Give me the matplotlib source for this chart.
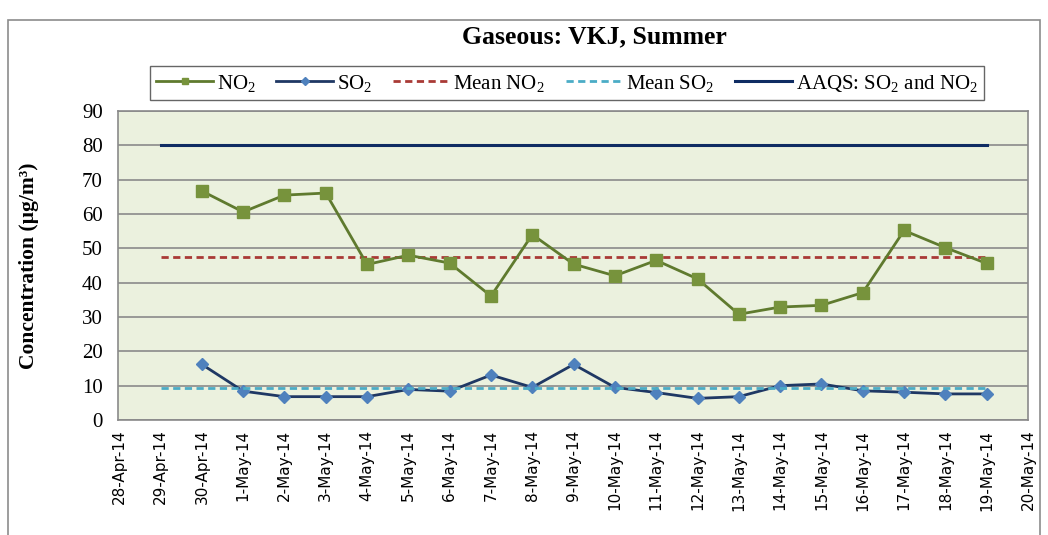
import numpy as np
import matplotlib
matplotlib.use("Agg")
import matplotlib.pyplot as plt
from matplotlib.patches import Rectangle

# Fechas del eje (eje de fechas continuo, 28-Abr a 20-May)
dates = ['28-Apr-14', '29-Apr-14', '30-Apr-14', '1-May-14', '2-May-14', '3-May-14',
         '4-May-14', '5-May-14', '6-May-14', '7-May-14', '8-May-14', '9-May-14',
         '10-May-14', '11-May-14', '12-May-14', '13-May-14', '14-May-14', '15-May-14',
         '16-May-14', '17-May-14', '18-May-14', '19-May-14', '20-May-14']

# Días con muestreo
sample_dates = dates[2:22]
no2 = [66.7, 60.6, 65.5, 66.1, 45.3, 48.0, 45.7, 36.1, 54.0, 45.4,
       42.0, 46.5, 41.1, 30.8, 32.9, 33.4, 37.1, 55.2, 50.2, 45.6]
so2 = [16.2, 8.4, 6.8, 6.8, 6.8, 8.9, 8.4, 13.1, 9.5, 16.2,
       9.5, 8.0, 6.3, 6.8, 10.0, 10.5, 8.5, 8.1, 7.6, 7.6]

# Líneas de referencia (medias y norma AAQS)
ref_dates = dates[1:22]
mean_no2 = 47.5
mean_so2 = 9.4
aaqs = 80

serif = 'Liberation Serif'
plt.rcParams['mathtext.default'] = 'regular'

fig = plt.figure(figsize=(10.48, 5.35), dpi=100)
fig.patch.set_facecolor('white')

# marco exterior del gráfico
fig.patches.append(Rectangle((8 / 1048, -0.05), 1032 / 1048, 1.05 - 20 / 535,
                             transform=fig.transFigure, fill=False,
                             edgecolor='#8c8c8c', linewidth=1.2))

ax = fig.add_axes([118 / 1048, 1 - 420 / 535, 910 / 1048, 309 / 535])
ax.set_facecolor('#EBF1DE')

x_all = np.arange(len(dates))
x_s = [dates.index(d) for d in sample_dates]
x_r = [dates.index(d) for d in ref_dates]

ax.plot(x_s, no2, color='#5F7A2E', linewidth=2.0, marker='s', markersize=8,
        markerfacecolor='#77933C', markeredgecolor='#77933C', label='NO$_2$', zorder=4)
ax.plot(x_s, so2, color='#1F3864', linewidth=2.0, marker='D', markersize=6.5,
        markerfacecolor='#4F81BD', markeredgecolor='#4F81BD', label='SO$_2$', zorder=4)
ax.plot(x_r, [mean_no2] * len(x_r), color='#A93A36', linewidth=2.0,
        linestyle=(0, (2.6, 1.6)), label='Mean NO$_2$', zorder=3)
ax.plot(x_r, [mean_so2] * len(x_r), color='#4BACC6', linewidth=2.0,
        linestyle=(0, (2.6, 1.6)), label='Mean SO$_2$', zorder=5)
ax.plot(x_r, [aaqs] * len(x_r), color='#0F2C63', linewidth=2.2,
        label='AAQS: SO$_2$ and NO$_2$', zorder=3)

ax.set_ylim(0, 90)
ax.set_yticks(np.arange(0, 91, 10))
ax.set_xlim(-0.03, 22.0)
ax.set_xticks(x_all)
ax.set_xticklabels(dates, rotation=90, fontsize=11, family='DejaVu Sans')
for lbl in ax.get_yticklabels():
    lbl.set_fontfamily(serif)
    lbl.set_fontsize(15)
ax.tick_params(axis='y', length=0, pad=11)
ax.tick_params(axis='x', length=0, pad=7)

ax.grid(axis='y', color='#8a8a8a', linewidth=1.2)
ax.set_axisbelow(True)
for s in ax.spines.values():
    s.set_color('#8a8a8a')
    s.set_linewidth(1.2)

ax.set_ylabel('Concentration (µg/m³)', family=serif, fontweight='bold',
              fontsize=15.5)
ax.yaxis.set_label_coords(-0.087, 0.5)

fig.text(594 / 1048, 1 - 37 / 535, 'Gaseous: VKJ, Summer', family=serif,
         fontweight='bold', fontsize=18.5, ha='center', va='center')

leg = fig.legend(loc='center', bbox_to_anchor=(567 / 1048, 1 - 83 / 535), ncol=5,
                 prop={'family': serif, 'size': 15}, frameon=True, fancybox=False,
                 handlelength=2.7, handletextpad=0.2, columnspacing=1.0,
                 borderpad=0.3, markerscale=0.6)
leg.get_frame().set_edgecolor('#404040')
leg.get_frame().set_linewidth(1.0)

fig.savefig('out.png', dpi=100)
